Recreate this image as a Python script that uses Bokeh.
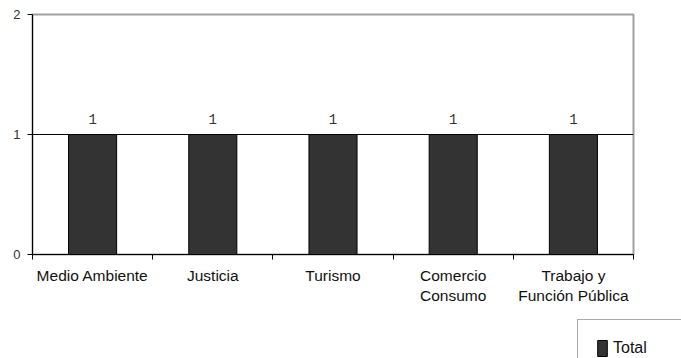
from bokeh.plotting import figure
from bokeh.layouts import column
from bokeh.models import (ColumnDataSource, FixedTicker, LabelSet, Legend, LegendItem, Range1d)
from bokeh.core.properties import value
from bokeh.embed import file_html
from bokeh.resources import INLINE

categories = ["Medio Ambiente", "Justicia", "Turismo", "Comercio\nConsumo", "Trabajo y\nFunción Pública"]
totals = [1, 1, 1, 1, 1]
y_ticks = [0, 1, 2]
series_name = "Total"

xpos = [i + 0.5 for i in range(len(categories))]
src = ColumnDataSource(dict(x=xpos, top=totals, lab=[str(v) for v in totals]))

BAR_FILL = "#333333"
BAR_LINE = "#000000"

p = figure(width=681, height=310, output_backend="svg", toolbar_location=None,
           x_range=Range1d(0, len(categories)), y_range=Range1d(0, 2),
           min_border_left=32, min_border_right=48, min_border_top=14, min_border_bottom=56)
p.frame_align = False
p.background_fill_color = "white"
p.border_fill_color = "white"
p.outline_line_color = "#a0a0a0"
p.outline_line_width = 2

r = p.vbar(x="x", top="top", bottom=0, width=0.4, source=src,
           fill_color=BAR_FILL, line_color=BAR_LINE, line_width=1)

labels = LabelSet(x="x", y="top", text="lab", source=src, y_offset=11,
                  text_align="center", text_baseline="alphabetic",
                  text_font=value("Liberation Mono"), text_font_size=value("14px"),
                  text_color="#333333")
p.add_layout(labels)

# grid
p.xgrid.visible = False
p.ygrid.ticker = FixedTicker(ticks=[1])
p.ygrid.grid_line_color = "#000000"
p.ygrid.grid_line_width = 1

# y axis
p.yaxis.ticker = FixedTicker(ticks=y_ticks)
p.yaxis.axis_line_color = "#000000"
p.yaxis.major_tick_line_color = "#000000"
p.yaxis.major_tick_out = 5
p.yaxis.major_tick_in = 0
p.yaxis.minor_tick_line_color = None
p.yaxis.major_label_text_font = "Liberation Sans"
p.yaxis.major_label_text_font_size = "13px"
p.yaxis.major_label_text_color = "#333333"
p.yaxis.major_label_standoff = 7

# x axis
p.xaxis.ticker = FixedTicker(ticks=xpos, minor_ticks=list(range(len(categories) + 1)))
p.xaxis.major_label_overrides = {x: c for x, c in zip(xpos, categories)}
p.xaxis.axis_line_color = "#000000"
p.xaxis.major_tick_line_color = None
p.xaxis.minor_tick_line_color = "#000000"
p.xaxis.minor_tick_out = 5
p.xaxis.minor_tick_in = 0
p.xaxis.major_label_text_font = "Liberation Sans"
p.xaxis.major_label_text_font_size = "15.5px"
p.xaxis.major_label_text_color = "#111111"
p.xaxis.major_label_standoff = 6

# legend strip below the chart
p2 = figure(width=681, height=48, output_backend="svg", toolbar_location=None,
            x_range=Range1d(-20, -19), y_range=Range1d(0, 1),
            x_axis_location=None, y_axis_location=None,
            min_border=0, min_border_left=0, min_border_right=0,
            min_border_top=0, min_border_bottom=0)
p2.frame_align = False
p2.grid.visible = False
p2.outline_line_color = None
p2.background_fill_color = "white"
p2.border_fill_color = "white"
r2 = p2.vbar(x="x", top="top", bottom=0, width=0.4, source=src,
             fill_color=BAR_FILL, line_color=BAR_LINE, line_width=1)

legend = Legend(items=[LegendItem(label=series_name, renderers=[r2])],
                location=(577, -19), orientation="vertical",
                padding=18, margin=0, spacing=0,
                glyph_width=12, glyph_height=20, label_standoff=5, label_width=50,
                label_text_font="Liberation Sans", label_text_font_size="16px",
                label_text_color="#111111",
                border_line_color="#555555", border_line_width=1,
                background_fill_color="white", background_fill_alpha=1)
p2.add_layout(legend, "center")

layout = column(p, p2, spacing=0)
open("out.html", "w").write(file_html(layout, INLINE))
